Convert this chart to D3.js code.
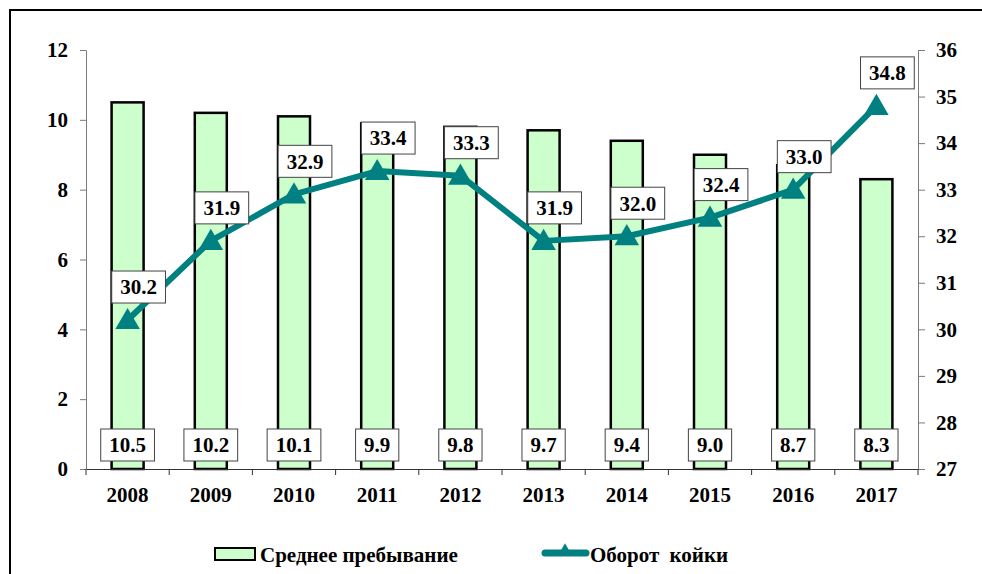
<!DOCTYPE html>
<html>
<head>
<meta charset="utf-8">
<script src="https://cdn.jsdelivr.net/npm/d3@7"></script>
<style>
    body { margin: 0; background: #ffffff; }
</style>
</head>
<body>
<div id="chart-div"></div>
<script>
// chart data
const years = ["2008", "2009", "2010", "2011", "2012", "2013", "2014", "2015", "2016", "2017"];
const avgStay = [10.5, 10.2, 10.1, 9.9, 9.8, 9.7, 9.4, 9.0, 8.7, 8.3];
const bedTurnover = [30.2, 31.9, 32.9, 33.4, 33.3, 31.9, 32.0, 32.4, 33.0, 34.8];
const leftTicks = [0, 2, 4, 6, 8, 10, 12];
const rightTicks = [27, 28, 29, 30, 31, 32, 33, 34, 35, 36];
const seriesNames = ["Среднее пребывание", "Оборот койки"];

const WIDTH = 982;
const HEIGHT = 574;
const PLOT_LEFT = 86;
const PLOT_RIGHT = 918;
const PLOT_TOP = 50;
const PLOT_BOTTOM = 469;
const BAR_WIDTH = 32;
const BAR_FILL = "#ccffcc";
const LINE_COLOR = "#008080";
const FONT_SIZE = 21;

let svg = d3.select("#chart-div")
    .append("svg")
    .attr("width", WIDTH)
    .attr("height", HEIGHT);

// outer frame (runs off the right and bottom edges)
svg.append("rect")
    .attr("x", 10)
    .attr("y", 10)
    .attr("width", 1000)
    .attr("height", 600)
    .attr("fill", "none")
    .attr("stroke", "#000")
    .attr("stroke-width", 2);

let xScale = d3.scaleBand()
    .domain(years)
    .range([PLOT_LEFT, PLOT_RIGHT])
    .padding(0);

let yLeft = d3.scaleLinear()
    .domain([0, 12])
    .range([PLOT_BOTTOM, PLOT_TOP]);

let yRight = d3.scaleLinear()
    .domain([27, 36])
    .range([PLOT_BOTTOM, PLOT_TOP]);

// bars
svg.append("g")
    .selectAll("rect")
    .data(years)
    .enter()
    .append("rect")
    .attr("x", (d) => xScale(d) + xScale.bandwidth() / 2 - BAR_WIDTH / 2)
    .attr("y", (d, i) => yLeft(avgStay[i]))
    .attr("width", BAR_WIDTH)
    .attr("height", (d, i) => PLOT_BOTTOM - yLeft(avgStay[i]))
    .attr("fill", BAR_FILL)
    .attr("stroke", "#000")
    .attr("stroke-width", 2.5);

// left axis
let leftAxis = svg.append("g")
    .attr("transform", "translate(" + PLOT_LEFT + ",0)")
    .call(d3.axisLeft(yLeft).tickValues(leftTicks).tickSize(6).tickSizeOuter(0).tickPadding(12));
leftAxis.selectAll("path, line").attr("stroke", "#7a7a7a");

// right axis
let rightAxis = svg.append("g")
    .attr("transform", "translate(" + PLOT_RIGHT + ",0)")
    .call(d3.axisRight(yRight).tickValues(rightTicks).tickSize(7).tickSizeOuter(0).tickPadding(11));
rightAxis.selectAll("path, line").attr("stroke", "#7a7a7a");

// x axis
let xAxis = svg.append("g")
    .attr("transform", "translate(0," + PLOT_BOTTOM + ")")
    .call(d3.axisBottom(xScale).tickSize(0).tickSizeOuter(0).tickPadding(18));
xAxis.select("path").attr("stroke", "#333");

// tick marks at the category boundaries
svg.append("g")
    .selectAll("line")
    .data(years.concat(["end"]))
    .enter()
    .append("line")
    .attr("x1", (d) => d === "end" ? PLOT_RIGHT : xScale(d))
    .attr("x2", (d) => d === "end" ? PLOT_RIGHT : xScale(d))
    .attr("y1", PLOT_BOTTOM)
    .attr("y2", PLOT_BOTTOM + 6)
    .attr("stroke", "#333");

// boxed value labels (width from the glyph count: digits 0.5em, point 0.25em)
function boxLabel(g, text, cx, cy) {
    let em = 0;
    for (const ch of text) em += (ch === ".") ? 0.25 : 0.5;
    let w = em * FONT_SIZE + 17;
    g.append("rect")
        .attr("x", cx - w / 2)
        .attr("y", cy - 16)
        .attr("width", w)
        .attr("height", 32)
        .attr("fill", "#fff")
        .attr("stroke", "#444")
        .attr("stroke-width", 1);
    g.append("text")
        .attr("x", cx)
        .attr("y", cy)
        .attr("text-anchor", "middle")
        .attr("dy", "0.35em")
        .text(text);
}

// bar labels near the base
years.forEach((year, i) => {
    let g = svg.append("g");
    boxLabel(g, avgStay[i].toFixed(1), xScale(year) + xScale.bandwidth() / 2, PLOT_BOTTOM - 24);
});

// turnover line
let line = d3.line()
    .x((d, i) => xScale(years[i]) + xScale.bandwidth() / 2)
    .y((d) => yRight(d));

svg.append("path")
    .datum(bedTurnover)
    .attr("d", line)
    .attr("fill", "none")
    .attr("stroke", LINE_COLOR)
    .attr("stroke-width", 6)
    .attr("stroke-linejoin", "round");

let tri = d3.symbol().type(d3.symbolTriangle).size(260);
svg.append("g")
    .selectAll("path")
    .data(bedTurnover)
    .enter()
    .append("path")
    .attr("d", tri)
    .attr("transform", (d, i) => "translate(" + (xScale(years[i]) + xScale.bandwidth() / 2) + "," + (yRight(d) + 2) + ")")
    .attr("fill", LINE_COLOR);

// line labels above the points
bedTurnover.forEach((v, i) => {
    let g = svg.append("g");
    boxLabel(g, v.toFixed(1), xScale(years[i]) + xScale.bandwidth() / 2 + 11, yRight(v) - 33);
});

// legend
let legend = svg.append("g");
legend.append("rect")
    .attr("x", 215)
    .attr("y", 548)
    .attr("width", 40)
    .attr("height", 12)
    .attr("fill", BAR_FILL)
    .attr("stroke", "#000")
    .attr("stroke-width", 2);
legend.append("text")
    .attr("x", 260)
    .attr("y", 562)
    .text(seriesNames[0]);

legend.append("line")
    .attr("x1", 545)
    .attr("x2", 586)
    .attr("y1", 553)
    .attr("y2", 553)
    .attr("stroke", LINE_COLOR)
    .attr("stroke-width", 7)
    .attr("stroke-linecap", "round");
legend.append("path")
    .attr("d", d3.symbol().type(d3.symbolTriangle).size(60))
    .attr("transform", "translate(565,550)")
    .attr("fill", LINE_COLOR);
legend.append("text")
    .attr("x", 590)
    .attr("y", 562)
    .style("word-spacing", "5px")
    .text(seriesNames[1]);

// serif bold text everywhere
svg.selectAll("g").attr("font-family", null).attr("font-size", null);
svg.selectAll("text")
    .style("font-family", "'Liberation Serif'")
    .style("font-weight", "bold")
    .style("font-size", FONT_SIZE + "px")
    .attr("fill", "#000");
</script>
</body>
</html>
